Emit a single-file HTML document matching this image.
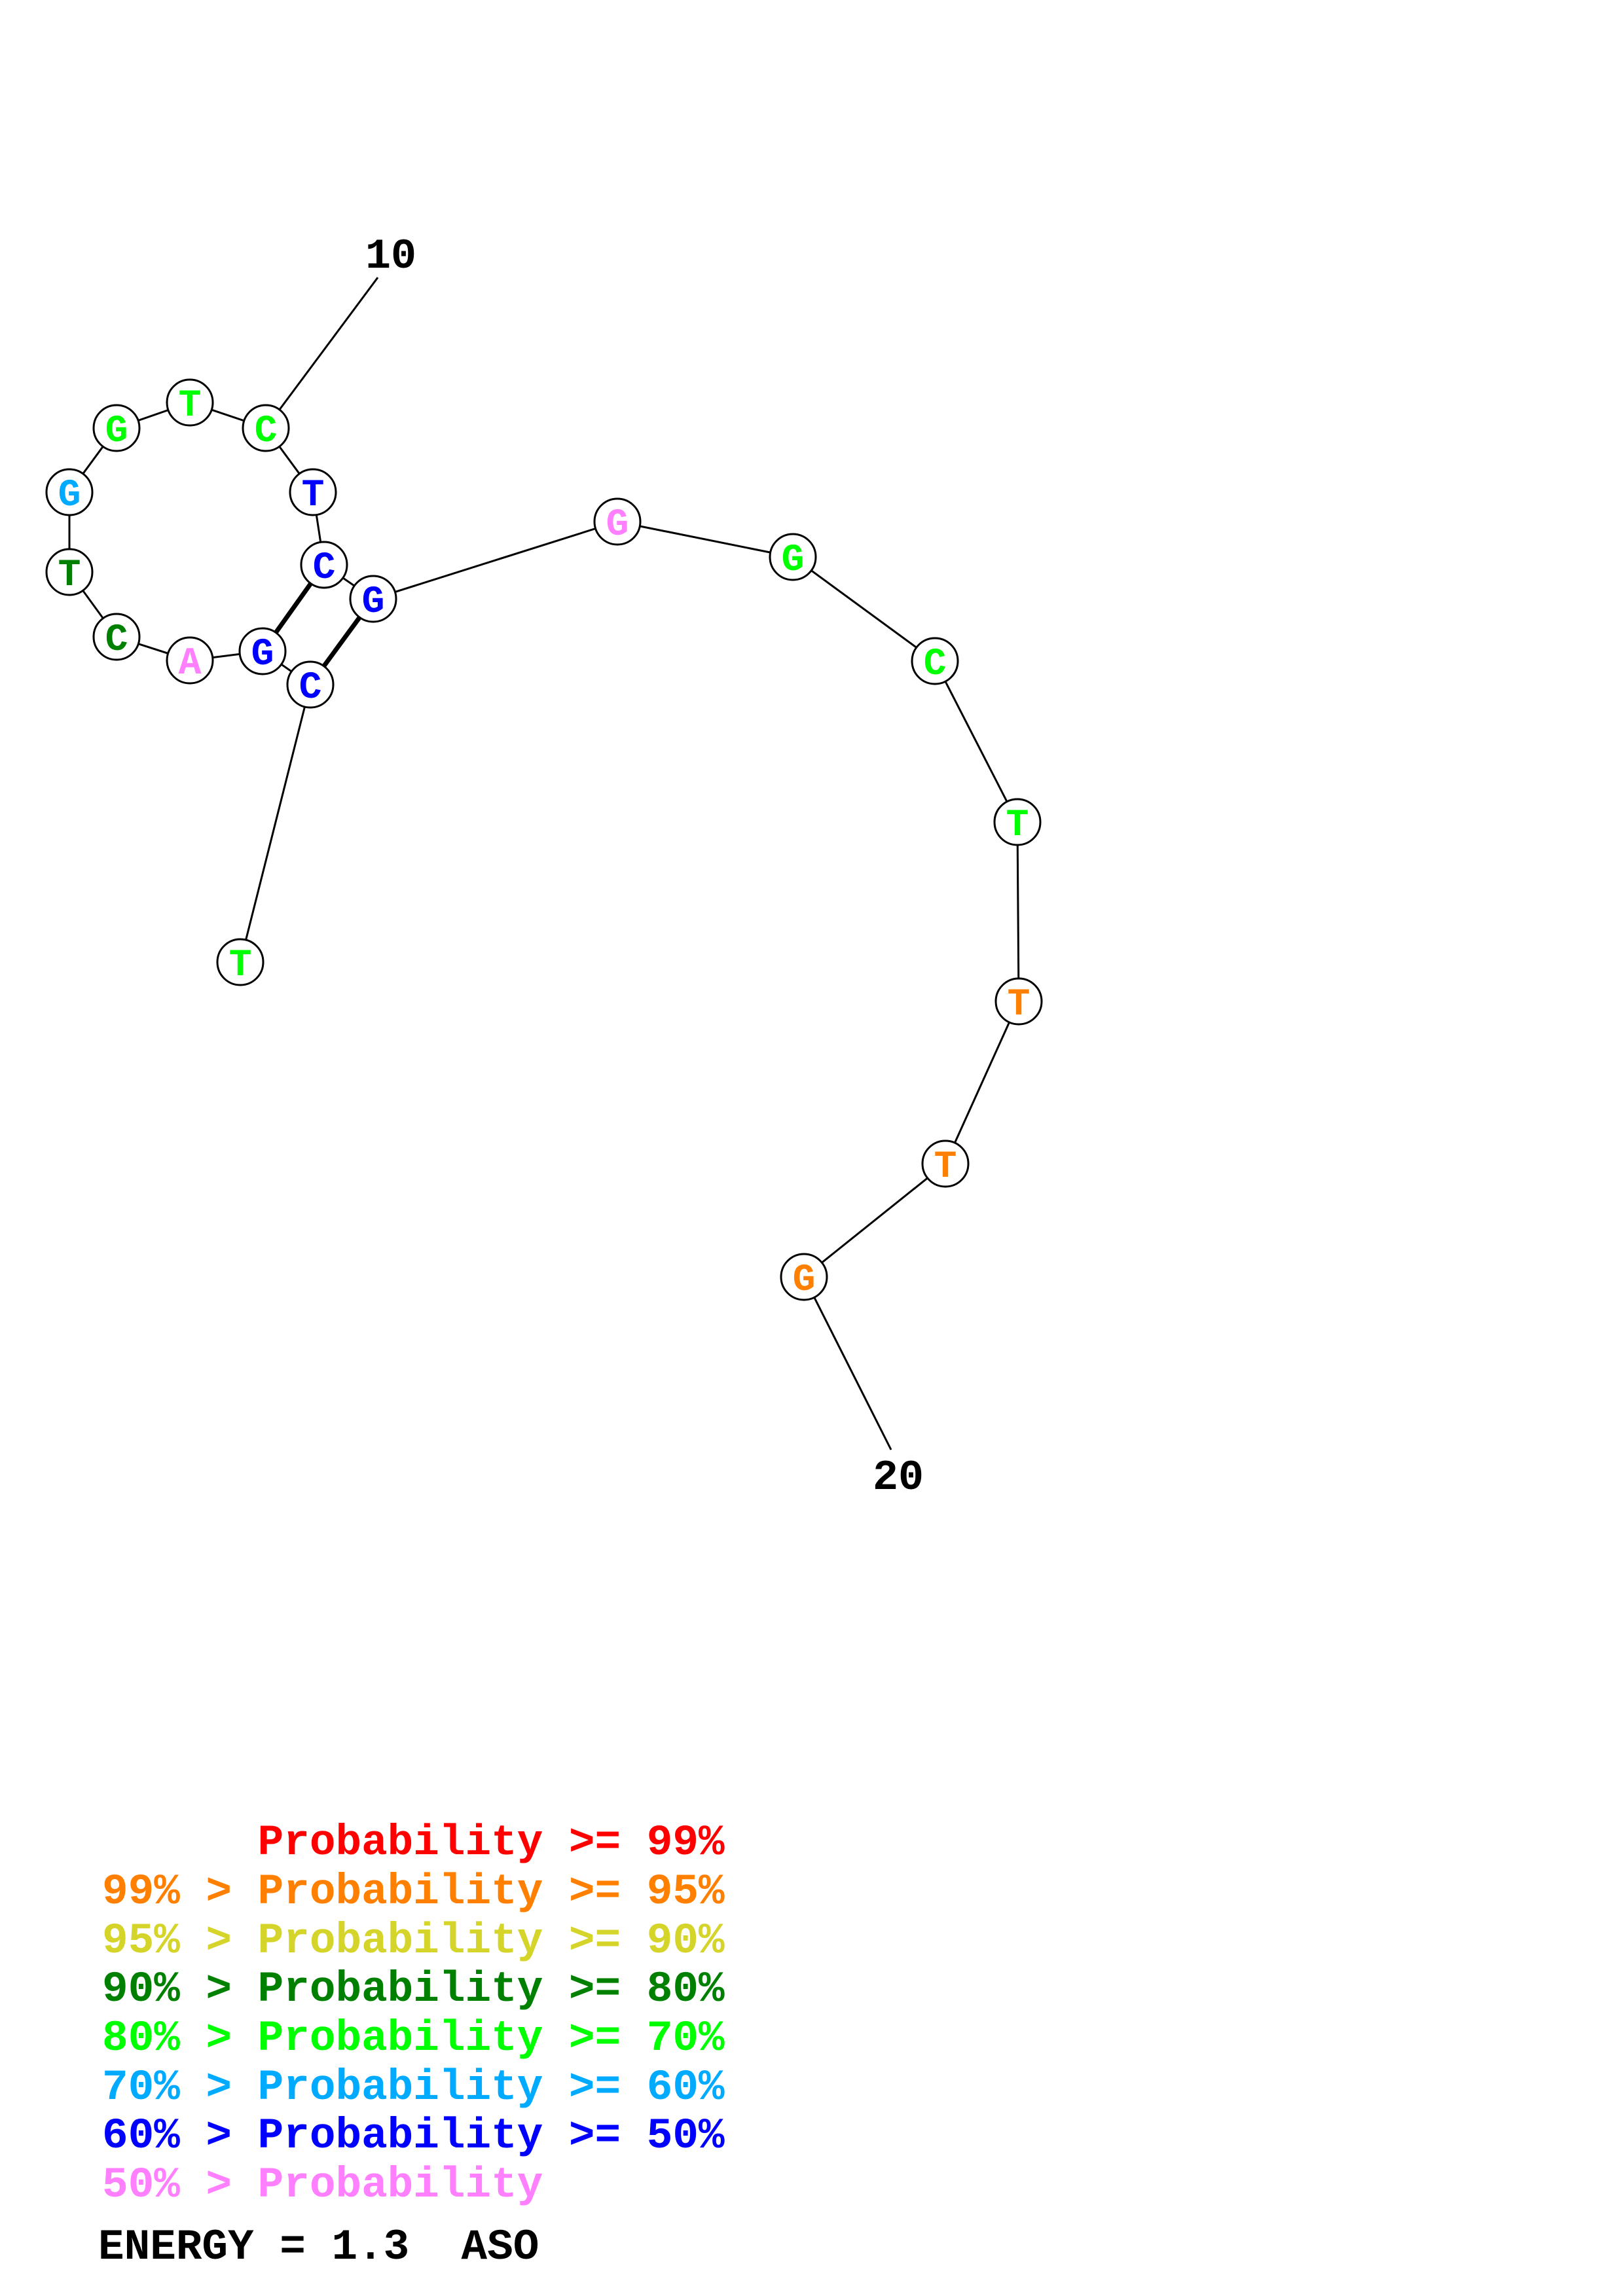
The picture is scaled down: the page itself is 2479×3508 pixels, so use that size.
<!DOCTYPE html>
<html><head><meta charset="utf-8"><style>html,body{margin:0;padding:0;background:#fff}svg{display:block}text{white-space:pre}</style></head>
<body>
<svg width="2479" height="3508" viewBox="0 0 2479 3508" xmlns="http://www.w3.org/2000/svg">
<rect width="2479" height="3508" fill="#fff"/>
<g stroke="#000" stroke-width="3" fill="none">
<polyline points="577,424 406,654 290,615 178,654 106,752 106,874 178,973 290,1009 401,995 474,1046 367,1470"/>
<polyline points="406,654 478,752 495,863 570,915 943,797 1211,851 1428,1010 1554,1256 1556,1530 1444,1778 1228,1951 1361,2215"/>
<line x1="401" y1="995" x2="495" y2="863" stroke-width="7"/>
<line x1="474" y1="1046" x2="570" y2="915" stroke-width="7"/>
</g>
<g stroke="#000" stroke-width="3" fill="#fff">
<circle cx="406" cy="654" r="35"/><circle cx="290" cy="615" r="35"/><circle cx="178" cy="654" r="35"/>
<circle cx="106" cy="752" r="35"/><circle cx="106" cy="874" r="35"/><circle cx="178" cy="973" r="35"/>
<circle cx="290" cy="1009" r="35"/><circle cx="401" cy="995" r="35"/><circle cx="474" cy="1046" r="35"/>
<circle cx="367" cy="1470" r="35"/><circle cx="478" cy="752" r="35"/><circle cx="495" cy="863" r="35"/>
<circle cx="570" cy="915" r="35"/><circle cx="943" cy="797" r="35"/><circle cx="1211" cy="851" r="35"/>
<circle cx="1428" cy="1010" r="35"/><circle cx="1554" cy="1256" r="35"/><circle cx="1556" cy="1530" r="35"/>
<circle cx="1444" cy="1778" r="35"/><circle cx="1228" cy="1951" r="35"/>
</g>
<g font-family="Liberation Mono, monospace" font-weight="bold" font-size="58" text-anchor="middle">
<text x="406" y="674" fill="#00ff00">C</text><text x="290" y="635" fill="#00ff00">T</text><text x="178" y="674" fill="#00ff00">G</text>
<text x="106" y="772" fill="#00aaff">G</text><text x="106" y="894" fill="#008000">T</text><text x="178" y="993" fill="#008000">C</text>
<text x="290" y="1029" fill="#ff80ff">A</text><text x="401" y="1015" fill="#0000ff">G</text><text x="474" y="1066" fill="#0000ff">C</text>
<text x="367" y="1490" fill="#00ff00">T</text><text x="478" y="772" fill="#0000ff">T</text><text x="495" y="883" fill="#0000ff">C</text>
<text x="570" y="935" fill="#0000ff">G</text><text x="943" y="817" fill="#ff80ff">G</text><text x="1211" y="871" fill="#00ff00">G</text>
<text x="1428" y="1030" fill="#00ff00">C</text><text x="1554" y="1276" fill="#00ff00">T</text><text x="1556" y="1550" fill="#ff8000">T</text>
<text x="1444" y="1798" fill="#ff8000">T</text><text x="1228" y="1971" fill="#ff8000">G</text>
</g>
<g font-family="Liberation Mono, monospace" font-weight="bold" font-size="65" fill="#000">
<text x="558" y="409">10</text>
<text x="1333" y="2275">20</text>
</g>
<g font-family="Liberation Mono, monospace" font-weight="bold" font-size="66">
<text x="156" y="2833" fill="#ff0000">      Probability &gt;= 99%</text>
<text x="156" y="2908" fill="#ff8000">99% &gt; Probability &gt;= 95%</text>
<text x="156" y="2983" fill="#d4d42a">95% &gt; Probability &gt;= 90%</text>
<text x="156" y="3057" fill="#008000">90% &gt; Probability &gt;= 80%</text>
<text x="156" y="3132" fill="#00ff00">80% &gt; Probability &gt;= 70%</text>
<text x="156" y="3207" fill="#00aaff">70% &gt; Probability &gt;= 60%</text>
<text x="156" y="3281" fill="#0000ff">60% &gt; Probability &gt;= 50%</text>
<text x="156" y="3356" fill="#ff80ff">50% &gt; Probability</text>
<text x="150" y="3451" fill="#000">ENERGY = 1.3  ASO</text>
</g>
</svg>
</body></html>
